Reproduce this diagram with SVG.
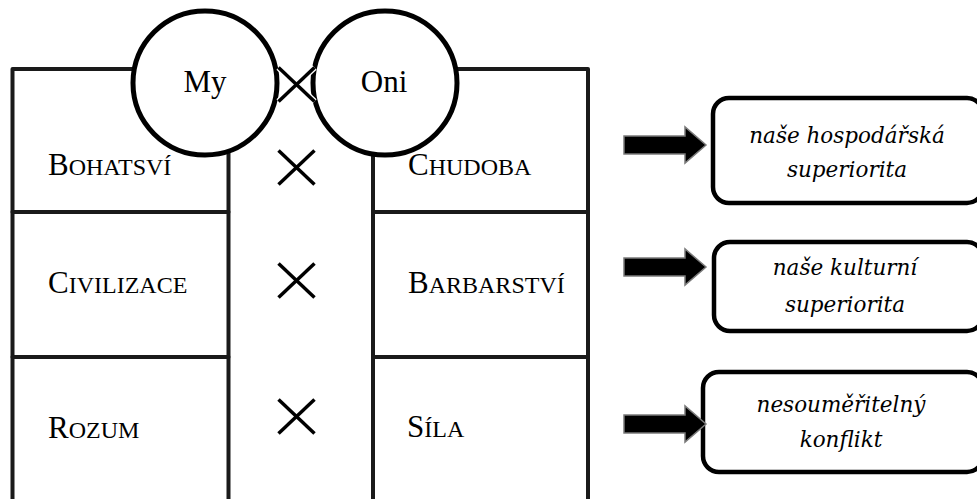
<svg xmlns="http://www.w3.org/2000/svg" width="977" height="499" viewBox="0 0 977 499">
  <defs>
    <style>
      .cell { fill: #fff; stroke: #1a1a1a; stroke-width: 4; stroke-linejoin: round; }
      .circle { fill: #fff; stroke: #000; stroke-width: 5; }
      .sc { font-family: "Liberation Serif", serif; fill: #000; }
      .big { font-size: 31px; }
      .small { font-size: 24px; }
      .label { font-family: "Liberation Serif", serif; font-size: 31px; fill: #000; text-anchor: middle; }
      .result { fill: #fff; stroke: #000; stroke-width: 4.5; }
      .note { font-family: "DejaVu Serif", serif; font-style: italic; font-size: 21.5px; fill: #000; text-anchor: middle; }
      .cross { stroke: #000; stroke-width: 3.5; fill: none; }
      .cross-halo { stroke: #fff; stroke-width: 6; fill: none; }
      .arrow { fill: #000; stroke: #7a7a7a; stroke-width: 1.5; stroke-linejoin: miter; }
    </style>
    <path id="block-arrow" d="M0,-9 L61,-9 L61,-18 L82,0 L61,18 L61,9 L0,9 Z"/>
    <g id="cross">
      <line x1="-18" y1="-17" x2="18" y2="17"/>
      <line x1="-18" y1="17" x2="18" y2="-17"/>
    </g>
  </defs>

  <!-- "My" column -->
  <g id="col-my">
    <g id="bohatstvi">
      <rect class="cell" x="12.5" y="69" width="216" height="143"/>
      <text class="sc" x="48" y="175"><tspan class="big">B</tspan><tspan class="small">OHATSVÍ</tspan></text>
    </g>
    <g id="civilizace">
      <rect class="cell" x="12.5" y="212" width="216" height="145"/>
      <text class="sc" x="48" y="293"><tspan class="big">C</tspan><tspan class="small">IVILIZACE</tspan></text>
    </g>
    <g id="rozum">
      <rect class="cell" x="12.5" y="357" width="216" height="146"/>
      <text class="sc" x="48" y="438"><tspan class="big">R</tspan><tspan class="small">OZUM</tspan></text>
    </g>
  </g>

  <!-- "Oni" column -->
  <g id="col-oni">
    <g id="chudoba">
      <rect class="cell" x="373" y="69" width="215" height="143"/>
      <text class="sc" x="408" y="175"><tspan class="big">C</tspan><tspan class="small">HUDOBA</tspan></text>
    </g>
    <g id="barbarstvi">
      <rect class="cell" x="373" y="212" width="215" height="145"/>
      <text class="sc" x="408" y="293"><tspan class="big">B</tspan><tspan class="small">ARBARSTVÍ</tspan></text>
    </g>
    <g id="sila">
      <rect class="cell" x="373" y="357" width="215" height="146"/>
      <text class="sc" x="407" y="437"><tspan class="big">S</tspan><tspan class="small">ÍLA</tspan></text>
    </g>
  </g>

  <!-- header circles -->
  <g id="my">
    <circle class="circle" cx="205" cy="83" r="72"/>
    <text class="label" x="205" y="92">My</text>
  </g>
  <g id="oni">
    <circle class="circle" cx="385" cy="83" r="72"/>
    <text class="label" x="384" y="92">Oni</text>
  </g>

  <!-- opposition marks -->
  <g id="versus-header" transform="translate(296.5,84.5)">
    <use href="#cross" class="cross-halo"/>
    <use href="#cross" class="cross"/>
  </g>
  <g id="versus-1" class="cross" transform="translate(296.5,167.5)"><use href="#cross"/></g>
  <g id="versus-2" class="cross" transform="translate(296.5,280.5)"><use href="#cross"/></g>
  <g id="versus-3" class="cross" transform="translate(296.5,416.5)"><use href="#cross"/></g>

  <!-- result boxes -->
  <g id="hospodarska">
    <rect class="result" x="713" y="98" width="270" height="105" rx="16"/>
    <text class="note" x="847" y="143">naše hospodářská</text>
    <text class="note" x="847" y="177">superiorita</text>
  </g>
  <g id="kulturni">
    <rect class="result" x="714" y="242" width="269" height="89" rx="16"/>
    <text class="note" x="845" y="275">naše kulturní</text>
    <text class="note" x="845" y="312">superiorita</text>
  </g>
  <g id="konflikt">
    <rect class="result" x="703" y="372" width="280" height="100" rx="16"/>
    <text class="note" x="841" y="412">nesouměřitelný</text>
    <text class="note" x="841" y="447">konflikt</text>
  </g>

  <!-- connectors -->
  <g id="connectors">
    <use href="#block-arrow" class="arrow" transform="translate(624,145)"/>
    <use href="#block-arrow" class="arrow" transform="translate(624,267)"/>
    <use href="#block-arrow" class="arrow" transform="translate(624,424)"/>
  </g>
</svg>
